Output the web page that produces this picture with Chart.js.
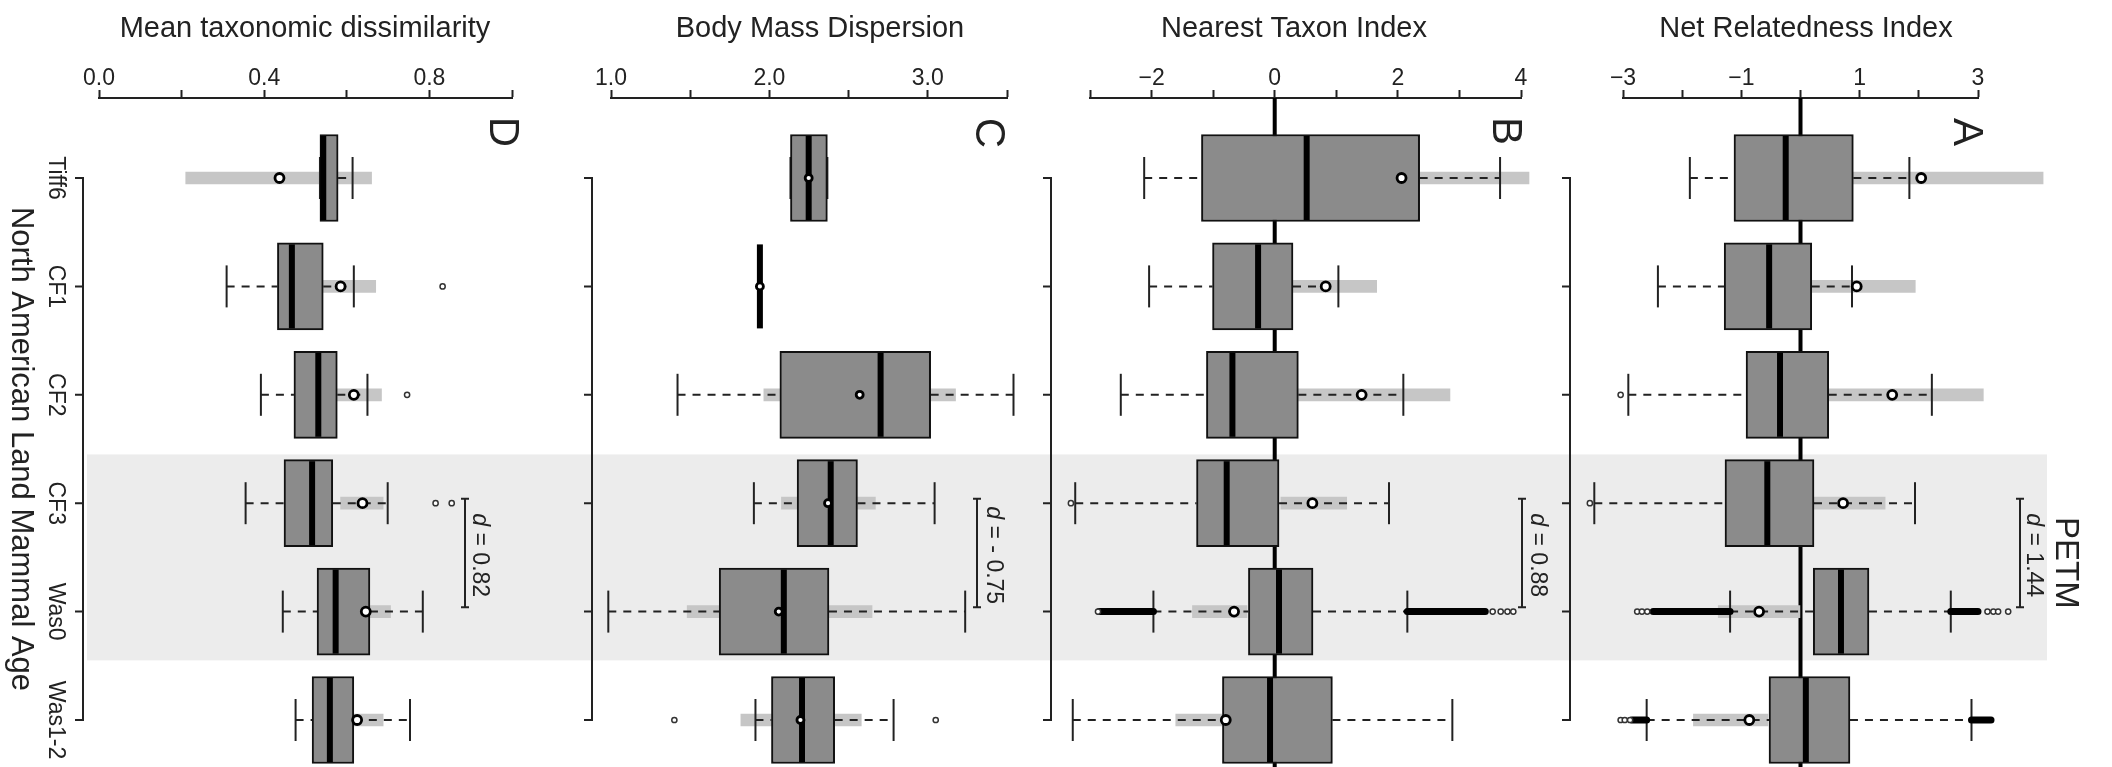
<!DOCTYPE html>
<html>
<head>
<meta charset="utf-8">
<title>Community metrics by North American Land Mammal Age</title>
<script src="https://cdn.jsdelivr.net/npm/chart.js@4.4.0/dist/chart.umd.min.js"></script>
<style>
  html, body { margin: 0; padding: 0; background: #fff; }
  #wrap { position: relative; width: 2112px; height: 767px; overflow: hidden; }
  .layer { position: absolute; left: 0; top: 0; width: 2112px; height: 767px; }
</style>
</head>
<body>
<div id="wrap">
  <div class="layer"><canvas id="panel-d"></canvas></div>
  <div class="layer"><canvas id="panel-c"></canvas></div>
  <div class="layer"><canvas id="panel-b"></canvas></div>
  <div class="layer"><canvas id="panel-a"></canvas></div>
</div>
<script>
// categories, top to bottom
const categories = ['Tiff6', 'CF1', 'CF2', 'CF3', 'Was0', 'Was1-2'];
const petmSpan = [2.55, 4.45];   // shaded rows (CF3 - Was0)
const effectSizes = [' = 0.82', ' = - 0.75', ' = 0.88', ' = 1.44'];

// D - Mean taxonomic dissimilarity
const mtdTicks = [0, 0.2, 0.4, 0.6, 0.8, 1.0];
const mtdTickLabels = ['0.0', '', '0.4', '', '0.8', ''];
const mtdLow = [0.535, 0.309, 0.392, 0.355, 0.445, 0.476];
const mtdQ1 = [0.535, 0.432, 0.472, 0.448, 0.528, 0.516];
const mtdMedian = [0.543, 0.467, 0.531, 0.516, 0.573, 0.559];
const mtdQ3 = [0.579, 0.543, 0.577, 0.566, 0.656, 0.617];
const mtdHigh = [0.614, 0.617, 0.650, 0.699, 0.784, 0.753];
const mtdRangeLo = [0.21, 0.53, 0.56, 0.585, 0.62, 0.58];
const mtdRangeHi = [0.66, 0.67, 0.684, 0.688, 0.706, 0.688];
const mtdObserved = [0.437, 0.585, 0.617, 0.638, 0.646, 0.625];
const mtdOutliers = [[1, 0.832], [2, 0.746], [3, 0.815], [3, 0.854]];

// C - Body mass dispersion
const bmdTicks = [1.0, 1.5, 2.0, 2.5, 3.0, 3.5];
const bmdTickLabels = ['1.0', '', '2.0', '', '3.0', ''];
const bmdLow = [2.133, 1.94, 1.42, 1.902, 0.983, 1.912];
const bmdQ1 = [2.133, 1.94, 2.066, 2.175, 1.683, 2.013];
const bmdMedian = [2.248, 1.94, 2.702, 2.387, 2.091, 2.206];
const bmdQ3 = [2.366, 1.94, 3.018, 2.556, 2.376, 2.412];
const bmdHigh = [2.366, 1.94, 3.541, 3.043, 3.236, 2.784];
const bmdRangeLo = [null, null, 1.965, 2.076, 1.481, 1.82];
const bmdRangeHi = [null, null, 3.175, 2.669, 2.648, 2.58];
const bmdObserved = [2.248, 1.94, 2.57, 2.37, 2.059, 2.196];
const bmdOutliers = [[5, 1.40], [5, 3.05]];

// B - Nearest taxon index
const ntiTicks = [-3, -2, -1, 0, 1, 2, 3, 4];
const ntiTickLabels = ['', '−2', '', '0', '', '2', '', '4'];
const ntiLow = [-2.12, -2.04, -2.50, -3.24, -1.97, -3.28];
const ntiQ1 = [-1.19, -1.01, -1.109, -1.27, -0.427, -0.849];
const ntiMedian = [0.519, -0.27, -0.687, -0.78, 0.07, -0.076];
const ntiQ3 = [2.354, 0.297, 0.384, 0.07, 0.622, 0.937];
const ntiHigh = [3.66, 1.034, 2.089, 1.856, 2.154, 2.885];
const ntiRangeLo = [2.0, 0.2, 0.3, 0.1, -1.336, -1.607];
const ntiRangeHi = [4.13, 1.656, 2.846, 1.169, -0.45, -0.85];
const ntiObserved = [2.06, 0.828, 1.412, 0.612, -0.66, -0.795];
const ntiOutliers = [[3, -3.31], [4, -2.87], [4, 3.54], [4, 3.67], [4, 3.78], [4, 3.875]];
const ntiOutlierRuns = [[4, -2.85, -1.97], [4, 2.154, 3.42]];

// A - Net relatedness index
const nriTicks = [-3, -2, -1, 0, 1, 2, 3];
const nriTickLabels = ['−3', '', '−1', '', '1', '', '3'];
const nriLow = [-1.87, -2.41, -2.91, -3.485, -1.19, -2.6];
const nriQ1 = [-1.124, -1.29, -0.92, -1.276, 0.216, -0.532];
const nriMedian = [-0.25, -0.53, -0.346, -0.561, 0.684, 0.09];
const nriQ3 = [0.893, 0.19, 0.477, 0.228, 1.157, 0.836];
const nriHigh = [1.84, 0.87, 2.22, 1.935, 2.54, 2.89];
const nriRangeLo = [0.8, 0.1, 0.4, 0.2, -1.39, -1.81];
const nriRangeHi = [4.10, 1.94, 3.09, 1.43, -0.01, -0.55];
const nriObserved = [2.04, 0.95, 1.55, 0.72, -0.70, -0.865];
const nriOutliers = [[2, -3.04], [3, -3.56], [4, -2.76], [4, -2.68], [4, -2.59], [4, 3.16], [4, 3.26],
                     [4, 3.34], [4, 3.51], [5, -3.04], [5, -2.97], [5, -2.88]];
const nriOutlierRuns = [[4, -2.49, -1.19], [4, 2.54, 3.0], [5, -2.85, -2.6], [5, 2.89, 3.22]];

// layout + style
const W = 2112, H = 767;
const AXIS_Y = 98;
const ROW0 = 178, ROW_STEP = 108.4;
const Y_MIN = -(ROW0 - AXIS_Y) / ROW_STEP;
const Y_MAX = (H - ROW0) / ROW_STEP;
const FAMILY = '"Liberation Sans", Arial, Helvetica, sans-serif';
const INK = '#222';
const BOX_GREY = '#8b8b8b';
const RANGE_GREY = '#c6c6c6';
const BAND = '#ececec';

Chart.defaults.font.family = FAMILY;
Chart.defaults.color = INK;

const panels = [
  { id: 'panel-d', title: 'Mean taxonomic dissimilarity', titleX: 305, left: 99, right: 512, min: 0, max: 1,
    ticks: mtdTicks, tickLabels: mtdTickLabels, catX: 83, letter: 'D', letterX: 502, letterY: 132,
    bracketX: 465, effectX: 479, effect: effectSizes[0], zeroLine: false, obsR: 4.5,
    low: mtdLow, q1: mtdQ1, med: mtdMedian, q3: mtdQ3, high: mtdHigh,
    rangeLo: mtdRangeLo, rangeHi: mtdRangeHi, obs: mtdObserved, outliers: mtdOutliers, runs: [] },
  { id: 'panel-c', title: 'Body Mass Dispersion', titleX: 820, left: 611, right: 1007, min: 1, max: 3.5,
    ticks: bmdTicks, tickLabels: bmdTickLabels, catX: 592, letter: 'C', letterX: 988, letterY: 133,
    bracketX: 977, effectX: 993, effect: effectSizes[1], zeroLine: false, obsR: 3.5,
    low: bmdLow, q1: bmdQ1, med: bmdMedian, q3: bmdQ3, high: bmdHigh,
    rangeLo: bmdRangeLo, rangeHi: bmdRangeHi, obs: bmdObserved, outliers: bmdOutliers, runs: [] },
  { id: 'panel-b', title: 'Nearest Taxon Index', titleX: 1294, left: 1090, right: 1521, min: -3, max: 4,
    ticks: ntiTicks, tickLabels: ntiTickLabels, catX: 1051, letter: 'B', letterX: 1505, letterY: 131,
    bracketX: 1522, effectX: 1537, effect: effectSizes[2], zeroLine: true, obsR: 4.5,
    low: ntiLow, q1: ntiQ1, med: ntiMedian, q3: ntiQ3, high: ntiHigh,
    rangeLo: ntiRangeLo, rangeHi: ntiRangeHi, obs: ntiObserved, outliers: ntiOutliers, runs: ntiOutlierRuns },
  { id: 'panel-a', title: 'Net Relatedness Index', titleX: 1806, left: 1623, right: 1978, min: -3, max: 3,
    ticks: nriTicks, tickLabels: nriTickLabels, catX: 1570, letter: 'A', letterX: 1966, letterY: 132,
    bracketX: 2020, effectX: 2033, effect: effectSizes[3], zeroLine: true, obsR: 4.5,
    low: nriLow, q1: nriQ1, med: nriMedian, q3: nriQ3, high: nriHigh,
    rangeLo: nriRangeLo, rangeHi: nriRangeHi, obs: nriObserved, outliers: nriOutliers, runs: nriOutlierRuns }
];

function buildDatasets(p) {
  const idx = categories.map((c, i) => i);
  const ds = [];
  if (p.zeroLine) {
    ds.push({ type: 'line', data: [{ x: 0, y: Y_MIN }, { x: 0, y: Y_MAX }], borderColor: '#000',
      borderWidth: 4, pointRadius: 0, order: 9, clip: false });
  }
  // observed-range bars
  ds.push({ type: 'bar', data: idx.filter(i => p.rangeLo[i] != null).map(i => ({ y: i, x: [p.rangeLo[i], p.rangeHi[i]] })),
    backgroundColor: RANGE_GREY, borderWidth: 0, barThickness: 12, grouped: false, order: 8, clip: false });
  // dashed whiskers
  const wh = [];
  idx.forEach(i => {
    wh.push({ x: p.low[i], y: i }, { x: p.q1[i], y: i }, { x: null, y: i },
            { x: p.q3[i], y: i }, { x: p.high[i], y: i }, { x: null, y: i });
  });
  ds.push({ type: 'line', data: wh, borderColor: INK, borderWidth: 2, borderDash: [8, 7],
    pointRadius: 0, spanGaps: false, order: 7, clip: false });
  // whisker caps
  ds.push({ type: 'scatter', data: idx.flatMap(i => [{ x: p.low[i], y: i }, { x: p.high[i], y: i }]),
    pointStyle: 'line', pointRadius: 21, pointRotation: 90, pointBorderColor: INK, pointBorderWidth: 2,
    order: 6, clip: false });
  // boxes
  ds.push({ type: 'bar', data: idx.map(i => ({ y: i, x: [p.q1[i], p.q3[i]] })),
    backgroundColor: BOX_GREY, borderColor: '#111', borderWidth: 2, borderSkipped: false,
    barThickness: 87, grouped: false, order: 5, clip: false });
  // medians
  ds.push({ type: 'scatter', data: idx.map(i => ({ x: p.med[i], y: i })),
    pointStyle: 'line', pointRadius: 42, pointRotation: 90, pointBorderColor: '#000', pointBorderWidth: 6,
    order: 4, clip: false });
  // dense outlier runs
  if (p.runs.length) {
    ds.push({ type: 'line', data: p.runs.flatMap(([i, a, b]) => [{ x: a, y: i }, { x: b, y: i }, { x: null, y: i }]),
      borderColor: '#000', borderWidth: 7, borderCapStyle: 'round', pointRadius: 0, spanGaps: false,
      order: 3, clip: false });
  }
  // single outliers
  ds.push({ type: 'scatter', data: p.outliers.map(([i, v]) => ({ x: v, y: i })),
    pointRadius: 2.6, pointBorderWidth: 1.5, pointBorderColor: '#333', pointBackgroundColor: '#fff',
    order: 2, clip: false });
  // observed values
  ds.push({ type: 'scatter', data: idx.map(i => ({ x: p.obs[i], y: i })),
    pointRadius: p.obsR, pointBorderWidth: 2.8, pointBorderColor: '#000', pointBackgroundColor: '#fff',
    order: 1, clip: false });
  return ds;
}

function rotText(ctx, text, x, y, size) {
  ctx.save();
  ctx.translate(x, y);
  ctx.rotate(Math.PI / 2);
  ctx.font = size + 'px ' + FAMILY;
  ctx.textAlign = 'center';
  ctx.textBaseline = 'middle';
  ctx.fillStyle = INK;
  ctx.fillText(text, 0, 0);
  ctx.restore();
}

function effectText(ctx, label, x, y) {
  ctx.save();
  ctx.translate(x, y);
  ctx.rotate(Math.PI / 2);
  ctx.textBaseline = 'middle';
  ctx.textAlign = 'left';
  ctx.fillStyle = INK;
  const italic = 'italic 23px ' + FAMILY, plain = '23px ' + FAMILY;
  ctx.font = italic;
  const w1 = ctx.measureText('d').width;
  ctx.font = plain;
  const w2 = ctx.measureText(label).width;
  const start = -(w1 + w2) / 2;
  ctx.font = italic;
  ctx.fillText('d', start, 0);
  ctx.font = plain;
  ctx.fillText(label, start + w1, 0);
  ctx.restore();
}

function decor(p, k) {
  return {
    id: 'decor' + k,
    beforeDatasetsDraw(chart) {
      // marks beyond the axis ends (e.g. NRI > 3) must still be drawn
      chart.$area = chart.chartArea;
      chart.chartArea = { left: 0, top: 0, right: W, bottom: H, width: W, height: H };
      if (k !== 0) return;
      const ctx = chart.ctx, y = chart.scales.y;
      const t = y.getPixelForValue(petmSpan[0]), b = y.getPixelForValue(petmSpan[1]);
      ctx.save();
      ctx.fillStyle = BAND;
      ctx.fillRect(87, t, 2047 - 87, b - t);
      ctx.restore();
    },
    afterDatasetsDraw(chart) {
      if (chart.$area) chart.chartArea = chart.$area;
    },
    afterDraw(chart) {
      const ctx = chart.ctx, y = chart.scales.y;
      ctx.save();
      // category axis
      ctx.strokeStyle = INK;
      ctx.lineWidth = 2;
      ctx.lineCap = 'square';
      ctx.beginPath();
      ctx.moveTo(p.catX, y.getPixelForValue(0));
      ctx.lineTo(p.catX, y.getPixelForValue(categories.length - 1));
      categories.forEach((c, i) => {
        const py = y.getPixelForValue(i);
        ctx.moveTo(p.catX - 7, py);
        ctx.lineTo(p.catX, py);
      });
      ctx.stroke();

      // effect size bracket
      ctx.lineCap = 'butt';
      const b0 = y.getPixelForValue(2.96), b1 = y.getPixelForValue(3.96);
      ctx.beginPath();
      ctx.moveTo(p.bracketX, b0); ctx.lineTo(p.bracketX, b1);
      ctx.moveTo(p.bracketX - 4, b0); ctx.lineTo(p.bracketX + 4, b0);
      ctx.moveTo(p.bracketX - 4, b1); ctx.lineTo(p.bracketX + 4, b1);
      ctx.stroke();
      effectText(ctx, p.effect, p.effectX, y.getPixelForValue(3.48));

      // panel title
      ctx.fillStyle = INK;
      ctx.font = '29px ' + FAMILY;
      ctx.textAlign = 'center';
      ctx.textBaseline = 'alphabetic';
      ctx.fillText(p.title, p.titleX, 37);
      ctx.restore();

      rotText(ctx, p.letter, p.letterX, p.letterY, 42);

      if (k === 0) {
        categories.forEach((c, i) => rotText(ctx, c, 55, y.getPixelForValue(i), 23));
        rotText(ctx, 'North American Land Mammal Age', 21, y.getPixelForValue(2.5), 31);
      }
      if (k === panels.length - 1) {
        rotText(ctx, 'PETM', 2065, y.getPixelForValue(3.55), 33);
      }
    }
  };
}

panels.forEach((p, k) => {
  new Chart(document.getElementById(p.id), {
    type: 'bar',
    data: { datasets: buildDatasets(p) },
    options: {
      indexAxis: 'y',
      responsive: true,
      maintainAspectRatio: false,
      animation: false,
      events: [],
      layout: { autoPadding: false, padding: { left: p.left, right: W - p.right, top: 0, bottom: 0 } },
      plugins: { legend: { display: false }, tooltip: { enabled: false } },
      scales: {
        x: {
          type: 'linear',
          position: 'top',
          min: p.min,
          max: p.max,
          beginAtZero: false,
          bounds: 'data',
          afterFit: s => { s.height = AXIS_Y; },
          afterBuildTicks: s => { s.ticks = p.ticks.map(v => ({ value: v })); },
          ticks: {
            autoSkip: false, maxRotation: 0, minRotation: 0, padding: 0, color: INK,
            font: { size: 23, lineHeight: 1 },
            callback: (v, i) => p.tickLabels[i]
          },
          grid: { display: true, drawOnChartArea: false, drawTicks: true, tickLength: 8, tickWidth: 2, tickColor: INK },
          border: { display: true, width: 2, color: INK }
        },
        y: {
          type: 'linear',
          display: false,
          reverse: true,
          offset: false,
          beginAtZero: false,
          bounds: 'data',
          min: Y_MIN,
          max: Y_MAX
        }
      }
    },
    plugins: [decor(p, k)]
  });
});
</script>
</body>
</html>
